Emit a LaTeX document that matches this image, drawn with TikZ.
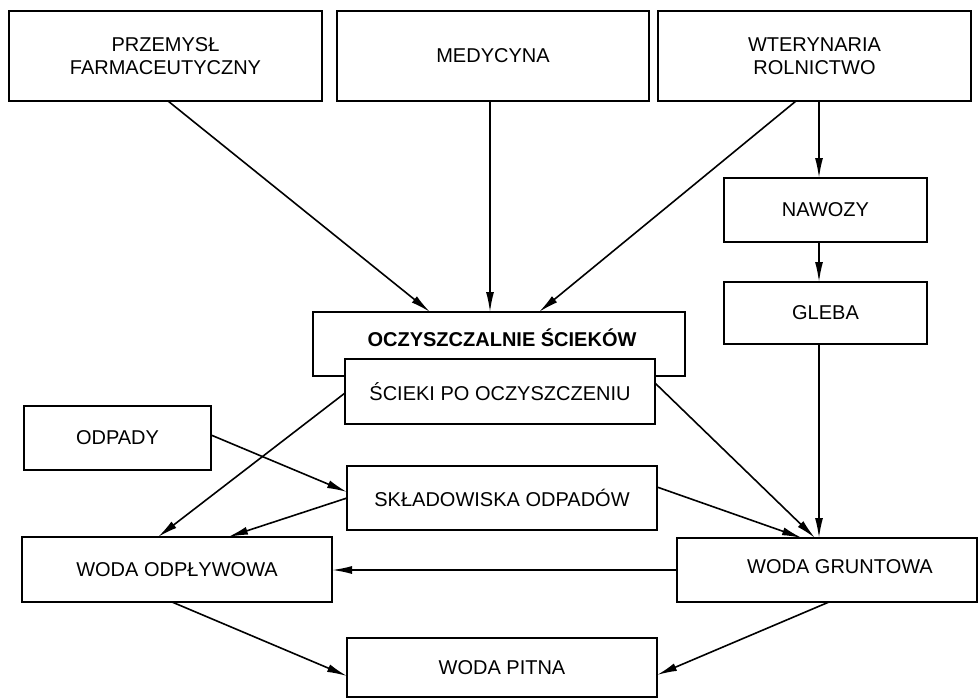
\documentclass[tikz,border=0pt]{standalone}
\usepackage{fontspec}
\setmainfont{Liberation Sans}
\usetikzlibrary{arrows.meta}
\begin{document}
\begin{tikzpicture}[x=1pt,y=-1pt,
  box/.style={draw, line width=2.4pt, fill=white, outer sep=0pt, inner sep=0pt, align=center,
    font=\fontsize{20}{23}\selectfont},
  lbl/.style={inner sep=0pt, align=center, font=\fontsize{20}{23}\selectfont},
  arr/.style={line width=1.6pt, -{Latex[length=20pt,width=8pt]}}]
\useasboundingbox (0,0) rectangle (980,699);
% boxes
\node[box, minimum width=313pt, minimum height=90pt] (przem) at (165.5,56) {PRZEMYSŁ\\FARMACEUTYCZNY};
\node[box, minimum width=312pt, minimum height=90pt] (med) at (493,56) {MEDYCYNA};
\node[box, minimum width=313pt, minimum height=90pt] (wet) at (814.5,56) {WTERYNARIA\\ROLNICTWO};
\node[box, minimum width=203pt, minimum height=64pt] (naw) at (825.5,210) {NAWOZY};
\node[box, minimum width=203pt, minimum height=62pt] (gleba) at (825.5,313) {GLEBA};
\node[box, minimum width=372pt, minimum height=64pt] (ocz) at (499,344) {};
\node[lbl, font=\fontsize{20}{23}\selectfont\bfseries] (oczt) at (502,338) {OCZYSZCZALNIE ŚCIEKÓW};
\node[box, minimum width=310pt, minimum height=65pt] (sciek) at (500,391.5) {ŚCIEKI PO OCZYSZCZENIU};
\node[box, minimum width=187pt, minimum height=64pt] (odp) at (117.5,438) {ODPADY};
\node[box, minimum width=310pt, minimum height=64pt] (skl) at (502,498) {SKŁADOWISKA ODPADÓW};
\node[box, minimum width=310pt, minimum height=65pt] (wodo) at (177,569.5) {WODA ODPŁYWOWA};
\node[box, minimum width=300pt, minimum height=64pt] (wodg) at (827,570) {};
\node[lbl] (wodgt) at (840,567) {WODA GRUNTOWA};
\node[box, minimum width=310pt, minimum height=59pt] (pitna) at (502,667.5) {WODA PITNA};
% connectors
\draw[arr] ([xshift=2.5pt]przem.south) -- ([xshift=-69pt]ocz.north);
\draw[arr] ([xshift=-3pt]med.south) -- ([xshift=-3pt]med.south |- ocz.north);
\draw[arr] ([xshift=-18.5pt]wet.south) -- ([xshift=40pt]ocz.north);
\draw[arr] ([xshift=4.5pt]wet.south) -- ([xshift=4.5pt]wet.south |- naw.north);
\draw[arr] ([xshift=-6.5pt]naw.south) -- ([xshift=-6.5pt]gleba.north);
\draw[arr] ([xshift=-6.5pt]gleba.south) -- ([xshift=-6.5pt]gleba.south |- wodg.north);
\draw[arr] ([yshift=-1.5pt]sciek.west) -- ([xshift=-19pt]wodo.north);
\draw[arr] ([yshift=3pt]odp.east) -- ([yshift=6pt]skl.west);
\draw[arr] (skl.west) -- ([xshift=51pt]wodo.north);
\draw[arr] (wodg.west) -- (wodg.west -| wodo.east);
\draw[arr] ([xshift=-5pt]wodo.south) -- ([yshift=-8.5pt]pitna.west);
\draw[arr] ([yshift=8.5pt]sciek.east) -- ([xshift=-12pt]wodg.north);
\draw[arr] ([yshift=11pt]skl.east) -- ([xshift=-25pt]wodg.north);
\draw[arr] ([xshift=2pt]wodg.south) -- ([yshift=-7.5pt]pitna.east);
\end{tikzpicture}
\end{document}
